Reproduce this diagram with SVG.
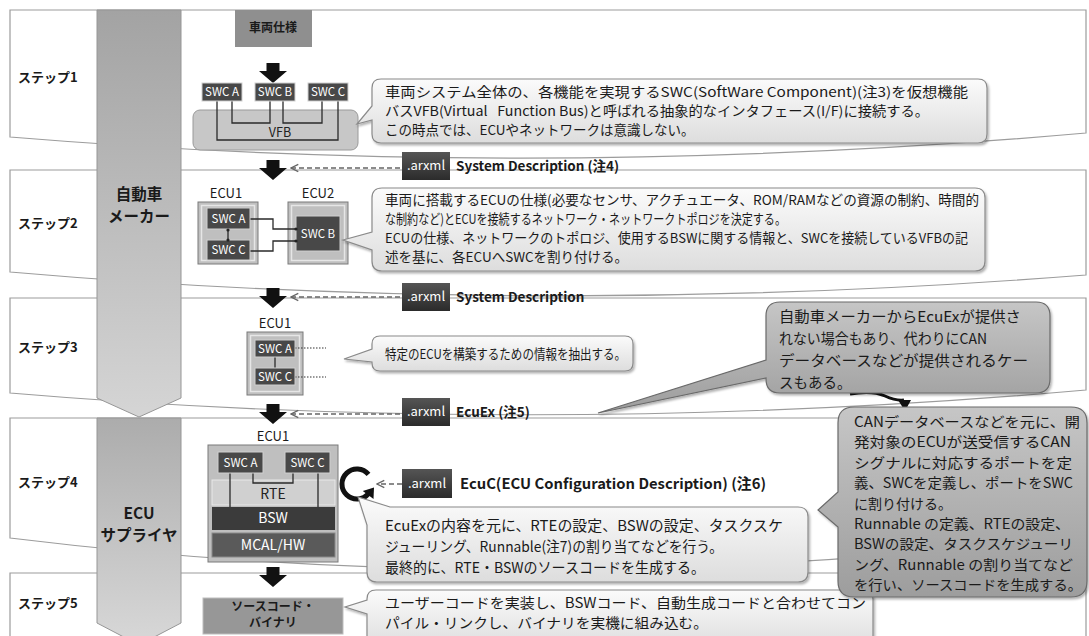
<svg xmlns="http://www.w3.org/2000/svg" width="1089" height="636" viewBox="0 0 1089 636">
<style>
text{font-family:"Noto Sans CJK JP","Noto Sans",sans-serif;fill:#1a1a1a}
.panel{fill:#fff;stroke:#9c9c9c;stroke-width:1.2}
.tx{font-size:13.5px}
.tl{font-size:14.5px}
.ts{font-size:14px}
.lb{font-size:13.5px;font-weight:bold}
.step{font-size:13px;font-weight:bold}
.bandt{font-size:15.5px;font-weight:bold;text-anchor:middle}
.swc{fill:#484848;stroke:#cfcfcf;stroke-width:1}
.sw{font-size:11.5px;fill:#fff;text-anchor:middle}
.ecu{fill:#bfbfbf;stroke:#7a7a7a;stroke-width:1}
.ring{fill:none;stroke:#e6e6e6;stroke-width:1.5}
.wire{fill:none;stroke:#2a2a2a;stroke-width:1.3}
.call{fill:url(#gCall);stroke:#8a8a8a;stroke-width:1.2;filter:url(#sh)}
.dark{fill:url(#gDark);stroke:#6a6a6a;stroke-width:1.2;filter:url(#sh)}
.badge{fill:url(#gBadge)}
.bt{font-size:13px;fill:#fff}
.dash{fill:none;stroke:#666;stroke-width:1.3;stroke-dasharray:5 3}
.mid{text-anchor:middle}
</style>
<defs>
<linearGradient id="gBand1" x1="0" y1="0" x2="0" y2="1"><stop offset="0" stop-color="#a3a3a3"/><stop offset="1" stop-color="#d5d5d5"/></linearGradient>
<linearGradient id="gBand2" x1="0" y1="0" x2="0" y2="1"><stop offset="0" stop-color="#acacac"/><stop offset="1" stop-color="#d8d8d8"/></linearGradient>
<linearGradient id="gCall" x1="0" y1="0" x2="0" y2="1"><stop offset="0" stop-color="#fbfbfb"/><stop offset="1" stop-color="#dddddd"/></linearGradient>
<linearGradient id="gDark" x1="0" y1="0" x2="0" y2="1"><stop offset="0" stop-color="#c6c6c6"/><stop offset="1" stop-color="#9d9d9d"/></linearGradient>
<linearGradient id="gBadge" x1="0" y1="0" x2="0" y2="1"><stop offset="0" stop-color="#555"/><stop offset="1" stop-color="#2b2b2b"/></linearGradient>
<filter id="sh" x="-5%" y="-5%" width="110%" height="120%"><feDropShadow dx="1.5" dy="2" stdDeviation="1.2" flood-color="#000" flood-opacity="0.3"/></filter>
<marker id="ah" viewBox="0 0 10 10" refX="9" refY="5" markerWidth="7" markerHeight="7" orient="auto"><path d="M1,1 L9,5 L1,9" fill="none" stroke="#666" stroke-width="1.5"/></marker>
<path id="blk" d="M-6.5,0 H6.5 V8 H14 L0,20 L-14,8 H-6.5 Z" fill="#111"/>
</defs>

<g id="panels">
<path class="panel" d="M10,10 H1086 V133 Q540,181 10,137 Z"/>
<path class="panel" d="M10,170 H1086 V275 Q540,318 10,272 Z"/>
<path class="panel" d="M10,298 H1086 V390 Q540,438 10,393 Z"/>
<path class="panel" d="M10,418 H1086 V535 Q540,603 10,538 Z"/>
<path class="panel" d="M10,573 H1086 V640 H10 Z"/>
</g>

<g id="steps">
<text class="step" x="18" y="82">ステップ1</text>
<text class="step" x="18" y="228">ステップ2</text>
<text class="step" x="18" y="352">ステップ3</text>
<text class="step" x="18" y="487">ステップ4</text>
<text class="step" x="18" y="608">ステップ5</text>
</g>

<g id="band-maker">
<path d="M97,10 H181 V398 L139,417 L97,398 Z" fill="url(#gBand1)" stroke="#969696"/>
<text class="bandt" x="139" y="200">自動車</text>
<text class="bandt" x="139" y="222">メーカー</text>
</g>
<g id="band-supplier">
<path d="M97,418 H181 V623 L139,645 L97,623 Z" fill="url(#gBand2)" stroke="#969696"/>
<text class="bandt" x="139" y="519">ECU</text>
<text class="bandt" x="139" y="541">サプライヤ</text>
</g>

<g id="spec">
<rect x="235" y="10" width="77" height="37" fill="#8f8f8f"/>
<text class="mid" x="273" y="32" style="font-size:12px;font-weight:bold">車両仕様</text>
</g>

<g id="flow-arrows">
<use href="#blk" transform="translate(273,63)"/>
<use href="#blk" transform="translate(273,160)"/>
<use href="#blk" transform="translate(273,288)"/>
<use href="#blk" transform="translate(273,404)"/>
<use href="#blk" transform="translate(273,567)"/>
</g>

<g id="step1-swc">
<rect x="193" y="110" width="165" height="40" rx="7" fill="#c7c7c7" stroke="#9a9a9a"/>
<text class="mid" x="280" y="137" style="font-size:12.5px;fill:#222">VFB</text>
<path class="wire" d="M217,100 V140 H338 V100 M232,100 V123 H270 V100 M283,100 V123 H322 V100"/>
<rect class="swc" x="202" y="83" width="40" height="18"/>
<rect class="swc" x="255" y="83" width="40" height="18"/>
<rect class="swc" x="308" y="83" width="40" height="18"/>
<text class="sw" x="222" y="96">SWC A</text>
<text class="sw" x="275" y="96">SWC B</text>
<text class="sw" x="328" y="96">SWC C</text>
</g>

<g id="step2-ecu">
<text class="mid" x="226" y="198" style="font-size:13px">ECU1</text>
<text class="mid" x="318" y="198" style="font-size:13px">ECU2</text>
<rect class="ecu" x="198" y="202" width="60" height="62"/>
<rect class="ring" x="201.5" y="205.5" width="53" height="55"/>
<rect class="ecu" x="288" y="202" width="60" height="62"/>
<rect class="ring" x="291.5" y="205.5" width="53" height="55"/>
<path class="wire" d="M228,229 V241 M250,219 H273 V229 H297 M250,251 H273 V241 H297"/>
<rect class="swc" x="207" y="208" width="43" height="21"/>
<rect class="swc" x="207" y="240" width="43" height="20"/>
<rect class="swc" x="296" y="216" width="44" height="35"/>
<text class="sw" x="228.5" y="223">SWC A</text>
<text class="sw" x="228.5" y="254">SWC C</text>
<text class="sw" x="318" y="238">SWC B</text>
<circle cx="228" cy="230" r="1.6" fill="#222"/><circle cx="228" cy="240" r="1.6" fill="#222"/>
<circle cx="296" cy="229" r="1.6" fill="#222"/><circle cx="296" cy="241" r="1.6" fill="#222"/>
</g>

<g id="step3-ecu">
<text class="mid" x="275" y="328" style="font-size:13px">ECU1</text>
<rect class="ecu" x="247" y="332" width="56" height="63"/>
<rect class="ring" x="250.5" y="335.5" width="49" height="56"/>
<path class="wire" d="M275,357 V368"/>
<path d="M295,348 H326 M295,377 H326" fill="none" stroke="#333" stroke-width="1.2" stroke-dasharray="1.5 1.5"/>
<rect class="swc" x="255" y="340" width="40" height="17"/>
<rect class="swc" x="255" y="368" width="40" height="17"/>
<text class="sw" x="275" y="352.5">SWC A</text>
<text class="sw" x="275" y="380.5">SWC C</text>
</g>

<g id="step4-ecu">
<text class="mid" x="273" y="441" style="font-size:13px">ECU1</text>
<rect class="ecu" x="208" y="445" width="130" height="117"/>
<rect x="212" y="480" width="123" height="25" fill="#d0d0d0" stroke="#e8e8e8"/>
<text class="mid" x="273" y="499" style="font-size:14px;fill:#222">RTE</text>
<rect x="212" y="507" width="123" height="23" fill="#3b3b3b"/>
<text class="mid" x="273" y="523" style="font-size:14px;fill:#fff">BSW</text>
<rect x="212" y="533" width="123" height="24" fill="#5a5a5a" stroke="#8a8a8a"/>
<text class="mid" x="273" y="550" style="font-size:14px;fill:#fff">MCAL/HW</text>
<path class="wire" d="M230,473 V507 M318,473 V507 M253,473 V483 H293 V473"/>
<rect class="swc" x="218" y="452" width="45" height="21"/>
<rect class="swc" x="285" y="452" width="45" height="21"/>
<text class="sw" x="240.5" y="467">SWC A</text>
<text class="sw" x="307.5" y="467">SWC C</text>
</g>

<g id="cycle">
<path d="M368.5,474.4 A15,15 0 1 0 368.5,493.6" fill="none" stroke="#111" stroke-width="5"/>
<polygon points="374,487.5 373.5,499 362.8,491" fill="#111"/>
</g>

<g id="binary">
<rect x="203" y="598" width="140" height="36" fill="#979797" stroke="#bdbdbd"/>
<text class="mid" x="273" y="611" style="font-size:12px;font-weight:bold">ソースコード・</text>
<text class="mid" x="273" y="627" style="font-size:12px;font-weight:bold">バイナリ</text>
</g>

<g id="connectors">
<line class="dash" x1="400" y1="168" x2="291" y2="168" marker-end="url(#ah)"/>
<line class="dash" x1="400" y1="297" x2="291" y2="297" marker-end="url(#ah)"/>
<line class="dash" x1="400" y1="414" x2="291" y2="414" marker-end="url(#ah)"/>
<line class="dash" x1="402" y1="484" x2="377" y2="484" marker-end="url(#ah)"/>
<path d="M850,394 Q872,390 885,396 Q896,401 904,400" fill="none" stroke="#111" stroke-width="3"/>
<polygon points="898,400 911,400 905,411" fill="#111"/>
</g>

<g id="badges">
<rect class="badge" x="402" y="152" width="48" height="28"/>
<text class="bt mid" x="426" y="170">.arxml</text>
<text class="lb" x="456" y="171">System Description (注4)</text>
<rect class="badge" x="402" y="283" width="48" height="28"/>
<text class="bt mid" x="426" y="301">.arxml</text>
<text class="lb" x="456" y="302">System Description</text>
<rect class="badge" x="402" y="398" width="48" height="28"/>
<text class="bt mid" x="426" y="416">.arxml</text>
<text class="lb" x="456" y="417">EcuEx (注5)</text>
<rect class="badge" x="402" y="469" width="50" height="29"/>
<text class="bt mid" x="427" y="488">.arxml</text>
<text class="lb" x="460" y="489" style="font-size:14.5px" textLength="306" lengthAdjust="spacingAndGlyphs">EcuC(ECU Configuration Description) (注6)</text>
</g>

<g id="callout1">
<path class="call" d="M381,79 H978 Q987,79 987,88 V134 Q987,143 978,143 H381 Q372,143 372,134 V120 L357,124 L372,106 V88 Q372,79 381,79 Z"/>
<text class="tx" x="385" y="97" textLength="583" lengthAdjust="spacingAndGlyphs">車両システム全体の、各機能を実現するSWC(SoftWare Component)(注3)を仮想機能</text>
<text class="tx" x="385" y="116" textLength="544" lengthAdjust="spacingAndGlyphs">バスVFB(Virtual&#160;&#160; Function Bus)と呼ばれる抽象的なインタフェース(I/F)に接続する。</text>
<text class="tx" x="385" y="135">この時点では、ECUやネットワークは意識しない。</text>
</g>

<g id="callout2">
<path class="call" d="M382,188 H975 Q985,188 985,198 V261 Q985,271 975,271 H382 Q372,271 372,261 V250 L343,240 L372,232 V198 Q372,188 382,188 Z"/>
<text class="tx" x="385" y="205" textLength="594" lengthAdjust="spacingAndGlyphs">車両に搭載するECUの仕様(必要なセンサ、アクチュエータ、ROM/RAMなどの資源の制約、時間的</text>
<text class="tx" x="385" y="224" textLength="401" lengthAdjust="spacingAndGlyphs">な制約など)とECUを接続するネットワーク・ネットワークトポロジを決定する。</text>
<text class="tx" x="385" y="243" textLength="583" lengthAdjust="spacingAndGlyphs">ECUの仕様、ネットワークのトポロジ、使用するBSWに関する情報と、SWCを接続しているVFBの記</text>
<text class="tx" x="385" y="262">述を基に、各ECUへSWCを割り付ける。</text>
</g>

<g id="callout3">
<path class="call" d="M380,336 H625 Q633,336 633,344 V363 Q633,371 625,371 H380 Q372,371 372,363 V362 L344,359 L372,349 V344 Q372,336 380,336 Z"/>
<text class="tx" x="385" y="359" textLength="241" lengthAdjust="spacingAndGlyphs">特定のECUを構築するための情報を抽出する。</text>
</g>

<g id="callout4">
<path class="dark" d="M780,302 H1036 Q1050,302 1050,316 V379 Q1050,393 1036,393 H780 Q766,393 766,379 V378 L598,413 L766,360 V316 Q766,302 780,302 Z"/>
<text class="tl" x="779" y="322" textLength="242" lengthAdjust="spacingAndGlyphs">自動車メーカーからEcuExが提供さ</text>
<text class="tl" x="779" y="344" textLength="208" lengthAdjust="spacingAndGlyphs">れない場合もあり、代わりにCAN</text>
<text class="tl" x="779" y="366" textLength="249" lengthAdjust="spacingAndGlyphs">データベースなどが提供されるケー</text>
<text class="tl" x="779" y="388">スもある。</text>
</g>

<g id="callout5">
<path class="call" d="M390,507 H798 Q808,507 808,517 V572 Q808,582 798,582 H377 Q367,582 367,572 V525 L358,497 L390,507 Z"/>
<text class="tl" x="385" y="531" textLength="398" lengthAdjust="spacingAndGlyphs">EcuExの内容を元に、RTEの設定、BSWの設定、タスクスケ</text>
<text class="tl" x="385" y="552" textLength="338" lengthAdjust="spacingAndGlyphs">ジューリング、Runnable(注7)の割り当てなどを行う。</text>
<text class="tl" x="385" y="573" textLength="320" lengthAdjust="spacingAndGlyphs">最終的に、RTE・BSWのソースコードを生成する。</text>
</g>

<g id="callout6">
<path class="call" d="M376,590 H864 Q873,590 873,599 V650 H367 V614 L345,607 L367,600 V599 Q367,590 376,590 Z"/>
<text class="ts" x="385" y="608" textLength="481" lengthAdjust="spacingAndGlyphs">ユーザーコードを実装し、BSWコード、自動生成コードと合わせてコン</text>
<text class="ts" x="385" y="628" textLength="323" lengthAdjust="spacingAndGlyphs">パイル・リンクし、バイナリを実機に組み込む。</text>
</g>

<g id="callout7">
<path class="dark" d="M854,407 H1071 Q1087,407 1087,423 V581 Q1087,597 1071,597 H854 Q838,597 838,581 V527 L818,510 L838,492 V423 Q838,407 854,407 Z"/>
<text class="ts" x="854" y="427" textLength="226" lengthAdjust="spacingAndGlyphs">CANデータベースなどを元に、開</text>
<text class="ts" x="854" y="447" textLength="217" lengthAdjust="spacingAndGlyphs">発対象のECUが送受信するCAN</text>
<text class="ts" x="854" y="468" textLength="218" lengthAdjust="spacingAndGlyphs">シグナルに対応するポートを定</text>
<text class="ts" x="854" y="488" textLength="219" lengthAdjust="spacingAndGlyphs">義、SWCを定義し、ポートをSWC</text>
<text class="ts" x="854" y="509">に割り付ける。</text>
<text class="ts" x="854" y="529" textLength="216" lengthAdjust="spacingAndGlyphs">Runnable の定義、RTEの設定、</text>
<text class="ts" x="854" y="549" textLength="219" lengthAdjust="spacingAndGlyphs">BSWの設定、タスクスケジューリ</text>
<text class="ts" x="854" y="570" textLength="219" lengthAdjust="spacingAndGlyphs">ング、Runnable の割り当てなど</text>
<text class="ts" x="854" y="590" textLength="228" lengthAdjust="spacingAndGlyphs">を行い、ソースコードを生成する。</text>
</g>
</svg>
